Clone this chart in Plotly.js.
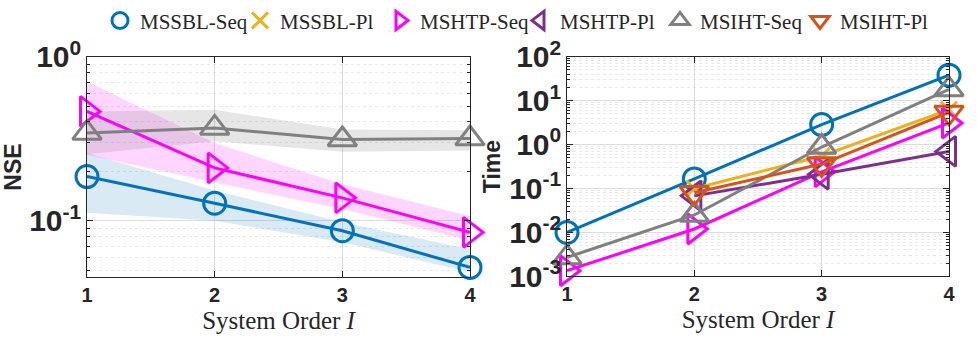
<!DOCTYPE html>
<html><head><meta charset="utf-8">
<script src="https://cdn.plot.ly/plotly-3.0.1.min.js"></script>
<style>body{margin:0;background:#fff}</style>
</head><body><div id="chart" style="width:977px;height:346px"></div>
<script>
// ---- data ----
const orders = [1, 2, 3, 4];
const seriesNames = ['MSSBL-Seq', 'MSSBL-Pl', 'MSHTP-Seq', 'MSHTP-Pl', 'MSIHT-Seq', 'MSIHT-Pl'];

// NSE (left panel), sequential methods only
const nseMssblSeq   = [0.186, 0.128, 0.087, 0.052];
const nseMssblSeqLo = [0.112, 0.100, 0.074, 0.0486];
const nseMssblSeqHi = [0.259, 0.153, 0.098, 0.067];
const nseMshtpSeq   = [0.464, 0.210, 0.138, 0.085];
const nseMshtpSeqLo = [0.253, 0.171, 0.118, 0.0757];
const nseMshtpSeqHi = [0.705, 0.298, 0.167, 0.107];
const nseMsihtSeq   = [0.343, 0.368, 0.313, 0.317];
const nseMsihtSeqLo = [0.254, 0.305, 0.263, 0.268];
const nseMsihtSeqHi = [0.464, 0.475, 0.360, 0.356];

// Time (right panel)
const timeMssblSeq = [0.0100, 0.165, 2.85, 38];
const timeMssblPl  = [null, 0.100, 0.55, 6.2];
const timeMshtpSeq = [0.00135, 0.012, 0.24, 3.1];
const timeMshtpPl  = [null, 0.068, 0.21, 0.70];
const timeMsihtSeq = [0.0027, 0.025, 0.88, 18];
const timeMsihtPl  = [null, 0.080, 0.36, 5.4];

// ---- styles ----
const colors = {
  'MSSBL-Seq': '#0072BD', 'MSSBL-Pl': '#EDB120', 'MSHTP-Seq': '#FF00FF',
  'MSHTP-Pl': '#7E2F8E', 'MSIHT-Seq': '#808080', 'MSIHT-Pl': '#D95319'
};
const bandColors = {
  'MSSBL-Seq': 'rgba(0,114,189,0.15)', 'MSHTP-Seq': 'rgba(255,0,255,0.16)', 'MSIHT-Seq': 'rgba(128,128,128,0.2)'
};
const symbols = {
  'MSSBL-Seq': 'circle-open', 'MSSBL-Pl': 'x-thin-open', 'MSHTP-Seq': 'triangle-right-open',
  'MSHTP-Pl': 'triangle-left-open', 'MSIHT-Seq': 'triangle-up-open', 'MSIHT-Pl': 'triangle-down-open'
};
const sizes = {
  'MSSBL-Seq': 22, 'MSSBL-Pl': 16, 'MSHTP-Seq': 26, 'MSHTP-Pl': 26, 'MSIHT-Seq': 25, 'MSIHT-Pl': 25
};

const traces = [];
function band(name, lo, hi, xa, ya) {
  traces.push({
    x: orders.concat(orders.slice().reverse()),
    y: hi.concat(lo.slice().reverse()),
    xaxis: xa, yaxis: ya, type: 'scatter', mode: 'lines', fill: 'toself',
    fillcolor: bandColors[name], line: {width: 0}, hoverinfo: 'skip', showlegend: false
  });
}
function series(name, vals, xa, ya, legend) {
  traces.push({
    x: orders, y: vals, xaxis: xa, yaxis: ya, type: 'scatter', mode: 'lines', cliponaxis: false,
    line: {color: colors[name], width: 3}, showlegend: false, legendgroup: name, connectgaps: false
  });
  traces.push({
    x: orders, y: vals, xaxis: xa, yaxis: ya, type: 'scatter', mode: 'markers', name: name,
    legendgroup: name, showlegend: legend, cliponaxis: false,
    marker: {symbol: symbols[name], size: sizes[name], color: colors[name], line: {width: 3, color: colors[name]}}
  });
}

band('MSSBL-Seq', nseMssblSeqLo, nseMssblSeqHi, 'x', 'y');
band('MSHTP-Seq', nseMshtpSeqLo, nseMshtpSeqHi, 'x', 'y');
band('MSIHT-Seq', nseMsihtSeqLo, nseMsihtSeqHi, 'x', 'y');
series('MSSBL-Seq', nseMssblSeq, 'x', 'y', false);
series('MSHTP-Seq', nseMshtpSeq, 'x', 'y', false);
series('MSIHT-Seq', nseMsihtSeq, 'x', 'y', false);

series('MSSBL-Seq', timeMssblSeq, 'x2', 'y2', true);
series('MSSBL-Pl', timeMssblPl, 'x2', 'y2', true);
series('MSHTP-Seq', timeMshtpSeq, 'x2', 'y2', true);
series('MSHTP-Pl', timeMshtpPl, 'x2', 'y2', true);
series('MSIHT-Seq', timeMsihtSeq, 'x2', 'y2', true);
series('MSIHT-Pl', timeMsihtPl, 'x2', 'y2', true);

const ink = '#262626';
const xCommon = {
  range: [1, 4], tickvals: orders, ticktext: orders.map(String),
  showline: true, mirror: 'ticks', linecolor: ink, linewidth: 1,
  ticks: 'inside', ticklen: 6, tickcolor: ink, tickwidth: 1,
  showgrid: true, gridcolor: '#dcdcdc', gridwidth: 1, zeroline: false,
  tickfont: {family: 'Liberation Sans, Arial, sans-serif', size: 20, color: ink, weight: 'bold'},
  title: {text: 'System Order <i>I</i>', standoff: 6,
    font: {family: 'Liberation Serif, Times New Roman, serif', size: 25, color: ink}}
};
const yCommon = {
  type: 'log', dtick: 1, exponentformat: 'power',
  labelalias: {'1': '10<sup>0</sup>', '10': '10<sup>1</sup>',
    '10<sup>\u22121</sup>': '10<sup>-1</sup>', '10<sup>\u22122</sup>': '10<sup>-2</sup>',
    '10<sup>\u22123</sup>': '10<sup>-3</sup>'},
  showline: true, mirror: 'ticks', linecolor: ink, linewidth: 1,
  ticks: 'inside', ticklen: 6, tickcolor: ink, tickwidth: 1,
  showgrid: true, gridcolor: '#dcdcdc', gridwidth: 1, zeroline: false,
  tickfont: {family: 'Liberation Sans, Arial, sans-serif', size: 24, color: ink, weight: 'bold'},
  minor: {dtick: 'D1', ticks: 'inside', ticklen: 3, tickcolor: ink, showgrid: true,
    gridcolor: '#e8e8e8', griddash: 'dot', gridwidth: 1}
};

const layout = {
  width: 977, height: 346, margin: {l: 0, r: 0, t: 0, b: 0},
  paper_bgcolor: '#fff', plot_bgcolor: '#fff', showlegend: true,
  xaxis: Object.assign({}, xCommon, {domain: [87/977, 470/977], anchor: 'y'}),
  xaxis2: Object.assign({}, xCommon, {domain: [567/977, 949/977], anchor: 'y2'}),
  yaxis: Object.assign({}, yCommon, {domain: [1 - 277/346, 1 - 55/346], anchor: 'x', range: [-1.345, 0],
    title: {text: 'NSE', standoff: 3, font: {family: 'Liberation Sans, Arial, sans-serif', size: 23, color: ink, weight: 'bold'}}}),
  yaxis2: Object.assign({}, yCommon, {domain: [1 - 276/346, 1 - 55/346], anchor: 'x2', range: [-3, 2],
    title: {text: 'Time', standoff: 2, font: {family: 'Liberation Sans, Arial, sans-serif', size: 23, color: ink, weight: 'bold'}}}),
  legend: {orientation: 'h', x: 100/977, xanchor: 'left', y: 1.005, yanchor: 'top',
    font: {family: 'Liberation Serif, Times New Roman, serif', size: 21, color: ink},
    bgcolor: 'rgba(0,0,0,0)', itemwidth: 30, entrywidth: 95, traceorder: 'normal'}
};

Plotly.newPlot('chart', traces, layout, {displayModeBar: false, staticPlot: true});
</script>
</body></html>
